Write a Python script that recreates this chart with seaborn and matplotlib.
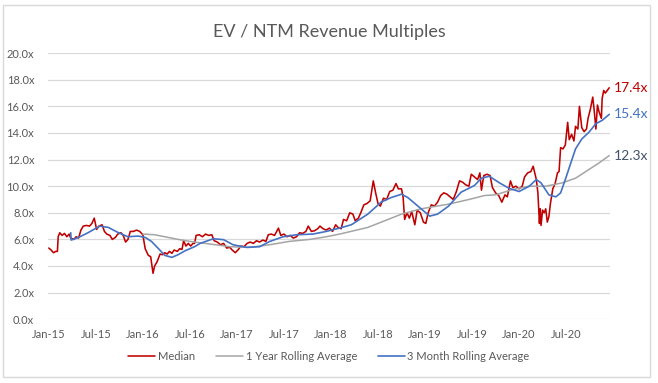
import matplotlib
matplotlib.use("Agg")
import matplotlib.pyplot as plt
from matplotlib.patches import Rectangle
import seaborn as sns
import pandas as pd

# ---- data (months since Jan-2015, multiple) ----
median_month = [0.0, 0.3, 0.6, 0.9, 1.1, 1.2, 1.4, 1.7, 2.0, 2.3, 2.6, 2.8, 3.2, 3.5, 3.8, 4.1, 4.4, 4.8,
                5.2, 5.5, 5.8, 6.1, 6.4, 6.8, 7.1, 7.4, 7.8, 8.1, 8.5, 8.8, 9.2, 9.5, 9.8, 10.1, 10.4, 10.8,
                11.2, 11.6, 12.0, 12.3, 12.7, 13.0, 13.3, 13.5, 13.8, 14.2, 14.5, 14.8, 15.1, 15.4, 15.7,
                16.0, 16.4, 16.7, 17.0, 17.2, 17.5, 17.8, 18.1, 18.4, 18.6, 18.8, 19.2, 19.6, 20.0, 20.4,
                20.8, 21.1, 21.5, 21.9, 22.3, 22.7, 23.1, 23.4, 23.8, 24.2, 24.5, 24.9, 25.3, 25.7, 26.1,
                26.5, 26.9, 27.3, 27.7, 28.0, 28.4, 28.8, 29.3, 29.6, 30.0, 30.4, 30.8, 31.2, 31.6, 32.0,
                32.4, 32.8, 33.1, 33.5, 33.9, 34.3, 34.6, 35.0, 35.4, 35.8, 36.2, 36.6, 36.9, 37.3, 37.6,
                38.0, 38.4, 38.8, 39.1, 39.5, 39.8, 40.2, 40.6, 41.0, 41.4, 41.7, 42.0, 42.3, 42.7, 43.1,
                43.5, 43.9, 44.3, 44.6, 45.0, 45.2, 45.4, 45.7, 46.0, 46.3, 46.7, 47.0, 47.4, 47.8, 48.1,
                48.4, 48.8, 49.2, 49.6, 50.0, 50.4, 50.8, 51.2, 51.6, 52.0, 52.4, 52.8, 53.2, 53.6, 53.9,
                54.3, 54.7, 55.0, 55.2, 55.5, 55.9, 56.3, 56.6, 57.0, 57.4, 57.8, 58.2, 58.5, 58.9, 59.2,
                59.6, 60.0, 60.4, 60.7, 61.1, 61.5, 61.8, 62.2, 62.4, 62.6, 62.7, 62.8, 63.0, 63.2, 63.4,
                63.6, 63.8, 64.0, 64.3, 64.6, 64.9, 65.1, 65.3, 65.6, 65.9, 66.2, 66.4, 66.7, 67.0, 67.2,
                67.5, 67.7, 68.0, 68.3, 68.6, 68.8, 69.1, 69.4, 69.6, 69.8, 70.0, 70.2, 70.5, 70.6, 70.8,
                71.0, 71.5]
median_value = [5.35, 5.2, 5.0, 5.1, 5.1, 6.2, 6.5, 6.3, 6.45, 6.2, 6.4, 6.1, 6.0, 6.2, 6.1, 6.7, 7.0, 7.05,
                7.0, 7.2, 7.6, 6.75, 7.0, 7.1, 6.6, 6.4, 6.3, 6.0, 6.15, 6.4, 6.5, 6.3, 5.8, 6.0, 6.6, 6.6,
                6.7, 6.6, 6.35, 5.3, 4.8, 4.7, 3.45, 4.0, 4.3, 4.9, 4.85, 5.0, 4.9, 5.1, 4.95,
                5.2, 5.1, 5.3, 5.25, 5.9, 5.5, 5.7, 5.5, 5.7, 5.7, 6.3, 6.35, 6.2, 6.4, 6.3,
                6.35, 5.9, 5.8, 5.6, 5.7, 5.35, 5.4, 5.2, 5.0, 5.25, 5.5, 5.45, 5.7, 5.8, 5.7,
                5.9, 5.8, 5.95, 5.85, 6.35, 6.4, 6.3, 6.85, 6.3, 6.4, 6.2, 6.3, 6.1, 6.2, 6.5,
                6.45, 6.6, 7.0, 6.6, 6.65, 6.8, 7.0, 6.8, 6.7, 6.85, 6.6, 7.1, 6.9, 6.8, 7.5,
                7.4, 8.0, 7.9, 7.4, 7.6, 8.0, 8.6, 8.7, 8.9, 10.4, 9.5, 8.7, 8.5, 9.1, 9.0,
                9.6, 9.7, 10.2, 9.8, 9.8, 9.2, 7.5, 8.0, 7.6, 8.1, 7.1, 8.2, 8.0, 7.3, 7.2,
                8.0, 8.6, 8.5, 8.8, 9.3, 9.5, 9.4, 9.2, 9.0, 9.6, 10.4, 10.3, 10.1, 10.0, 10.9,
                10.7, 10.5, 11.0, 9.7, 10.8, 10.9, 10.8, 9.9, 9.5, 9.3, 8.8, 9.35, 9.2, 10.4, 9.9,
                10.0, 9.8, 10.0, 10.7, 11.0, 11.1, 11.5, 10.5, 9.5, 7.2, 8.3, 7.05, 8.2, 8.0, 8.3,
                7.3, 7.7, 8.7, 9.8, 10.2, 11.0, 11.1, 12.9, 12.8, 13.1, 14.8, 13.5, 13.9, 13.4, 14.5,
                14.3, 16.0, 14.4, 14.1, 14.3, 15.1, 15.8, 16.7, 15.6, 14.3, 16.1, 15.6, 15.1, 16.6, 17.2,
                17.0, 17.4]

avg3m_month = [2.8, 2.85, 3.8, 5.0, 6.5, 7.6, 8.9, 10.1, 11.4, 12.3, 13.1, 14.0, 14.8, 15.7, 16.5, 17.4,
               18.0, 18.6, 19.3, 21.0, 22.3, 23.5, 25.2, 26.9, 28.2, 29.9, 31.6, 33.7, 35.4, 37.1, 38.6,
               40.7, 42.4, 43.7, 45.0, 45.8, 47.1, 48.6, 49.6, 51.0, 52.6, 54.3, 55.2, 56.2, 57.5, 58.7,
               60.0, 61.3, 62.2, 62.8, 63.8, 64.7, 65.3, 65.9, 66.6, 67.2, 68.0, 68.9, 69.8, 70.6, 71.5]
avg3m_value = [6.5, 5.95, 6.15, 6.5, 7.0, 6.9, 6.5, 6.2, 6.25, 6.15, 5.85, 5.3, 4.8, 4.65, 4.85, 5.15,
               5.3, 5.45, 5.7, 6.05, 5.98, 5.6, 5.4, 5.45, 5.85, 6.2, 6.35, 6.4, 6.6, 6.85, 7.1,
               7.9, 8.8, 9.15, 9.4, 9.15, 8.5, 7.75, 7.9, 8.5, 9.55, 10.05, 10.6, 10.75, 10.25, 9.85,
               9.6, 10.0, 10.5, 10.25, 9.35, 9.2, 9.5, 10.5, 11.75, 12.8, 13.55, 14.05, 14.7, 14.95, 15.4]

avg1y_month = [12.0, 13.5, 14.8, 16.5, 18.0, 18.6, 20.6, 23.1, 25.6, 28.2, 30.7, 33.3, 35.4, 37.1, 40.7,
               45.0, 47.5, 51.0, 53.6, 55.6, 57.0, 59.2, 61.3, 63.4, 65.5, 67.2, 68.9, 70.2, 71.5]
avg1y_value = [6.4, 6.35, 6.2, 6.0, 5.85, 5.8, 5.65, 5.45, 5.4, 5.6, 5.85, 6.0, 6.2, 6.4, 6.9,
               7.9, 8.3, 8.65, 9.0, 9.3, 9.35, 9.75, 10.0, 10.0, 10.25, 10.6, 11.25, 11.75, 12.3]

tick_months = [0, 6, 12, 18, 24, 30, 36, 42, 48, 54, 60, 66]
tick_labels = ["Jan-15", "Jul-15", "Jan-16", "Jul-16", "Jan-17", "Jul-17",
               "Jan-18", "Jul-18", "Jan-19", "Jul-19", "Jan-20", "Jul-20"]
end_labels = ["17.4x", "15.4x", "12.3x"]

# ---- styling ----
sns.set_theme(style="white")
plt.rcParams["font.family"] = ["Lato", "DejaVu Sans"]

RED = "#C00000"
GRAY = "#A5A5A5"
BLUE = "#4472C4"
TXT = "#595959"

fig = plt.figure(figsize=(6.58, 3.83), dpi=100)
ax = fig.add_axes([48 / 658, 1 - 319.2 / 383, 562 / 658, (319.2 - 53.2) / 383])

df_med = pd.DataFrame({"m": median_month, "v": median_value})
df_1y = pd.DataFrame({"m": avg1y_month, "v": avg1y_value})
df_3m = pd.DataFrame({"m": avg3m_month, "v": avg3m_value})

sns.lineplot(data=df_med, x="m", y="v", ax=ax, color=RED, lw=1.15, label="Median")
sns.lineplot(data=df_1y, x="m", y="v", ax=ax, color=GRAY, lw=1.1, label="1 Year Rolling Average")
sns.lineplot(data=df_3m, x="m", y="v", ax=ax, color=BLUE, lw=1.2, label="3 Month Rolling Average")

ax.set_xlim(-0.1, 71.6)
ax.set_ylim(0, 20)
ax.set_yticks(range(0, 21, 2))
ax.set_yticklabels([f"{v:.1f}x" for v in range(0, 21, 2)])
ax.set_xticks(tick_months)
ax.set_xticklabels(tick_labels)
ax.tick_params(axis="both", length=0, labelsize=8, colors=TXT)
ax.tick_params(axis="y", pad=10)
ax.tick_params(axis="x", pad=7)
ax.set_xlabel("")
ax.set_ylabel("")
ax.grid(axis="y", color="#D9D9D9", lw=0.9)
for s in ax.spines.values():
    s.set_visible(False)

# end labels
ax.text(1.006, (median_value[-1]) / 20, end_labels[0], transform=ax.transAxes, color=RED,
        fontsize=10, va="center", ha="left")
ax.text(1.006, (avg3m_value[-1]) / 20, end_labels[1], transform=ax.transAxes, color=BLUE,
        fontsize=10, va="center", ha="left")
ax.text(1.006, (avg1y_value[-1]) / 20, end_labels[2], transform=ax.transAxes, color="#44546A",
        fontsize=10, va="center", ha="left")

fig.text(0.5, 1 - 31.5 / 383, "EV / NTM Revenue Multiples", ha="center", va="center",
         fontsize=13, color=TXT)

handles, labels = ax.get_legend_handles_labels()
ax.get_legend().remove()
fig.legend(handles, labels, loc="center", bbox_to_anchor=(0.5, 1 - 356 / 383), ncol=3,
           frameon=False, fontsize=8, labelcolor=TXT, handlelength=2.4, columnspacing=1.9,
           handletextpad=0.25)

fig.patches.append(Rectangle((3 / 658, 1 - 377 / 383), 647 / 658, 372 / 383,
                             transform=fig.transFigure, fill=False, edgecolor="#D9D9D9", lw=1))

fig.savefig("out.png", dpi=100)
